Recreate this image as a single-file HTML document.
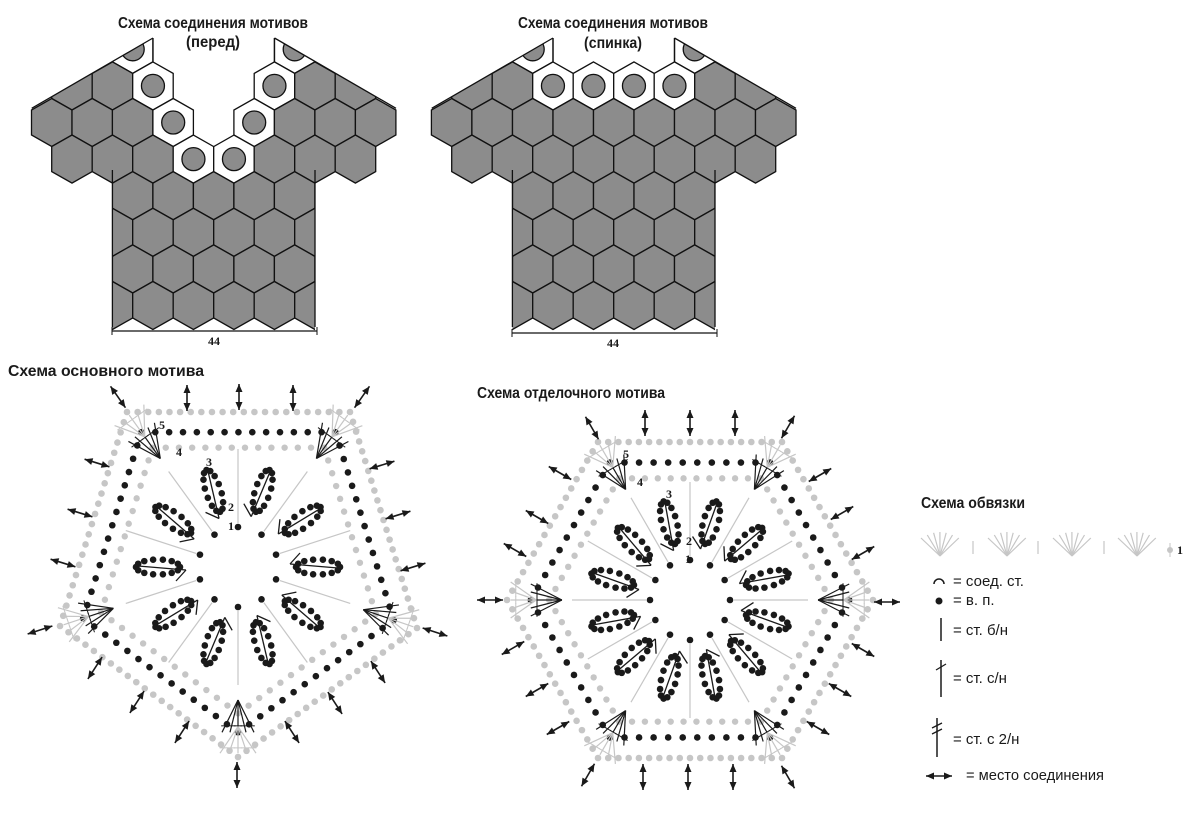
<!DOCTYPE html>
<html><head><meta charset="utf-8">
<style>
html,body{margin:0;padding:0;background:#fff;}
svg{display:block;}
.t{font-family:"Liberation Sans","Noto Sans CJK SC",sans-serif;font-weight:bold;font-size:16px;fill:#1a1a1a;}
.l{font-family:"Liberation Sans","Noto Sans CJK SC",sans-serif;font-size:15px;fill:#1a1a1a;}
.n{font-family:"Liberation Serif",serif;font-weight:bold;font-size:12px;fill:#1a1a1a;}
</style></head>
<body>
<svg id="s" width="1200" height="821" viewBox="0 0 1200 821" xmlns="http://www.w3.org/2000/svg">
<defs>
<clipPath id="fa"><polygon points="0,126.3 153,38 274.5,38 430,127.8 430,200 0,200"/></clipPath>
<clipPath id="fb"><rect x="112.4" y="150" width="202.6" height="190"/></clipPath>
<clipPath id="ba"><polygon points="400,126.3 553,38 674.5,38 830,127.8 830,200 400,200"/></clipPath>
<clipPath id="bb"><rect x="512.4" y="150" width="202.6" height="190"/></clipPath>
</defs>
<g id="g"></g>
<text class="t" x="213" y="28" text-anchor="middle" textLength="190" lengthAdjust="spacingAndGlyphs">Схема соединения мотивов</text>
<text class="t" x="213" y="47" text-anchor="middle" textLength="54" lengthAdjust="spacingAndGlyphs">(перед)</text>
<text class="t" x="613" y="28" text-anchor="middle" textLength="190" lengthAdjust="spacingAndGlyphs">Схема соединения мотивов</text>
<text class="t" x="613" y="48" text-anchor="middle" textLength="58" lengthAdjust="spacingAndGlyphs">(спинка)</text>
<text class="n" x="214" y="345" text-anchor="middle">44</text>
<text class="n" x="613" y="347" text-anchor="middle">44</text>
<text class="t" x="8" y="376" textLength="196" lengthAdjust="spacingAndGlyphs">Схема основного мотива</text>
<text class="t" x="477" y="398" textLength="188" lengthAdjust="spacingAndGlyphs">Схема отделочного мотива</text>
<text class="t" x="921" y="508" textLength="104" lengthAdjust="spacingAndGlyphs">Схема обвязки</text>
<text class="n" x="159" y="429">5</text><text class="n" x="176" y="456">4</text>
<text class="n" x="206" y="466">3</text><text class="n" x="228" y="511">2</text><text class="n" x="228" y="530">1</text>
<text class="n" x="623" y="458">5</text><text class="n" x="637" y="486">4</text>
<text class="n" x="666" y="498">3</text><text class="n" x="686" y="545">2</text><text class="n" x="685" y="563">1</text>
<text class="n" x="1177" y="554">1</text>
<text class="l" x="953" y="586">= соед. ст.</text>
<text class="l" x="953" y="605">= в. п.</text>
<text class="l" x="953" y="635">= ст. б/н</text>
<text class="l" x="953" y="683">= ст. с/н</text>
<text class="l" x="953" y="744">= ст. с 2/н</text>
<text class="l" x="966" y="780" textLength="138" lengthAdjust="spacingAndGlyphs">= место соединения</text>
</svg>
<script>
var NS="http://www.w3.org/2000/svg",G=document.getElementById("g");
function el(t,a,p){var e=document.createElementNS(NS,t);for(var k in a)e.setAttribute(k,a[k]);(p||G).appendChild(e);return e;}
var W=40.5,A=25,C=11.5,X0=51.7,Y0=122.5,RS=36.6;
function hp(cx,cy){var h=W/2;return [[cx,cy-A/2-C],[cx+h,cy-A/2],[cx+h,cy+A/2],[cx,cy+A/2+C],[cx-h,cy+A/2],[cx-h,cy-A/2]].map(function(p){return p[0].toFixed(1)+","+p[1].toFixed(1)}).join(" ");}
function cen(r,i,dx){return [X0+dx+W*(i+((r&1)?0.5:0)),Y0+r*RS];}
function shirt(dx,clipA,clipB,white,omit){
 var ga=el("g",{"clip-path":"url(#"+clipA+")"}),gb=el("g",{"clip-path":"url(#"+clipB+")"});
 var rows={"-2":[0,8],"-1":[0,7],"0":[0,8],"1":[0,7]};
 for(var r=-2;r<=1;r++){for(var i=rows[r][0];i<=rows[r][1];i++){
   var key=r+":"+i;if(omit.indexOf(key)>=0)continue;
   var c=cen(r,i,dx),w=white.indexOf(key)>=0;
   el("polygon",{points:hp(c[0],c[1]),fill:w?"#fff":"#8c8c8c",stroke:"#111","stroke-width":1.3},ga);
   if(w)el("circle",{cx:c[0],cy:c[1],r:11.5,fill:"#8c8c8c",stroke:"#111","stroke-width":1.3},ga);
 }}
 for(var r=2;r<=5;r++){var a=(r&1)?1:2,b=6;for(var i=a;i<=b;i++){var c=cen(r,i,dx);
   el("polygon",{points:hp(c[0],c[1]),fill:"#8c8c8c",stroke:"#111","stroke-width":1.3},gb);}}
 el("line",{x1:112.4+dx,y1:170,x2:112.4+dx,y2:327,stroke:"#111","stroke-width":1.3});
 el("line",{x1:315+dx,y1:170,x2:315+dx,y2:327,stroke:"#111","stroke-width":1.3});
 el("line",{x1:31.7+dx,y1:108.3,x2:153+dx,y2:38,stroke:"#111","stroke-width":1.3});
 el("line",{x1:274.5+dx,y1:38,x2:396+dx,y2:108.3,stroke:"#111","stroke-width":1.3});
 el("line",{x1:153+dx,y1:38,x2:153+dx,y2:62,stroke:"#111","stroke-width":1.3});
 el("line",{x1:274.5+dx,y1:38,x2:274.5+dx,y2:62,stroke:"#111","stroke-width":1.3});
}
shirt(0,"fa","fb",["-2:2","-2:6","-1:2","-1:5","0:3","0:5","1:3","1:4"],["-2:3","-2:4","-2:5","-1:3","-1:4","0:4"]);
shirt(400,"ba","bb",["-2:2","-2:6","-1:2","-1:3","-1:4","-1:5"],["-2:3","-2:4","-2:5"]);
function dim(x1,x2,y){el("line",{x1:x1,y1:y,x2:x2,y2:y,stroke:"#111","stroke-width":1.2});
 el("line",{x1:x1,y1:y-4,x2:x1,y2:y+4,stroke:"#111"});el("line",{x1:x2,y1:y-4,x2:x2,y2:y+4,stroke:"#111"});}
dim(112,317,331);dim(512,717,333);
var GR="#c6c6c6",BK="#1a1a1a";
function sc(pts,c,s){return pts.map(function(p){return [c[0]+(p[0]-c[0])*s,c[1]+(p[1]-c[1])*s];});}
function ring(pts,sp,r,f){for(var k=0;k<pts.length;k++){var p=pts[k],q=pts[(k+1)%pts.length],L=Math.hypot(q[0]-p[0],q[1]-p[1]),n=Math.max(1,Math.round(L/sp));
 for(var j=0;j<n;j++){var t=j/n;el("circle",{cx:p[0]+(q[0]-p[0])*t,cy:p[1]+(q[1]-p[1])*t,r:r,fill:f});}}}
function arrow(cx,cy,a){var d=a*Math.PI/180,ux=Math.cos(d),uy=Math.sin(d),L=13,h=8,w=3.5;
 el("line",{x1:cx-ux*L,y1:cy-uy*L,x2:cx+ux*L,y2:cy+uy*L,stroke:BK,"stroke-width":1.6});
 [1,-1].forEach(function(s){var tx=cx+s*ux*L,ty=cy+s*uy*L,bx=tx-s*ux*h,by=ty-s*uy*h;
  el("polygon",{points:tx+","+ty+" "+(bx-uy*w)+","+(by+ux*w)+" "+(bx+uy*w)+","+(by-ux*w),fill:BK});});}
function fan(ap,to,spread,col,n){var dx=to[0]-ap[0],dy=to[1]-ap[1],L=Math.hypot(dx,dy),px=-dy/L,py=dx/L;
 for(var k=0;k<n;k++){var t=(k/(n-1)-0.5)*2*spread,ex=to[0]+px*t,ey=to[1]+py*t;
  el("line",{x1:ap[0],y1:ap[1],x2:ex,y2:ey,stroke:col,"stroke-width":1.2});
  var mx=ap[0]+(ex-ap[0])*0.8,my=ap[1]+(ey-ap[1])*0.8;
  el("line",{x1:mx-px*4,y1:my-py*4,x2:mx+px*4,y2:my+py*4,stroke:col,"stroke-width":1});}}
function leaf(c,th){var ux=Math.cos(th),uy=Math.sin(th),vx=-uy,vy=ux;
 function P(u,v){return [c[0]+ux*u+vx*v,c[1]+uy*u+vy*v];}
 for(var k=0;k<14;k++){var t=k/14*2*Math.PI;var p=P(80+22*Math.cos(t),7.5*Math.sin(t));
  el("circle",{cx:p[0],cy:p[1],r:3.3,fill:BK});}
 var a=P(52,-3),b=P(100,1);el("line",{x1:a[0],y1:a[1],x2:b[0],y2:b[1],stroke:BK,"stroke-width":1.3});
 var d=P(62,-14);el("line",{x1:a[0],y1:a[1],x2:d[0],y2:d[1],stroke:BK,"stroke-width":1.3});}
function motif(c,pts,nl,off){
 var tb=Math.PI/180;
 for(var k=0;k<nl;k++){var th=(off+k*360/nl-90+180/nl)*tb,ux=Math.cos(th),uy=Math.sin(th);
  el("line",{x1:c[0]+ux*44,y1:c[1]+uy*44,x2:c[0]+ux*118,y2:c[1]+uy*118,stroke:GR,"stroke-width":1.2});
  el("circle",{cx:c[0]+ux*40,cy:c[1]+uy*40,r:3.3,fill:BK});}
 ring(pts,10.5,3.3,GR);ring(sc(pts,c,0.77),13,3.2,GR);ring(sc(pts,c,0.87),14,3.3,BK);
 pts.forEach(function(v){var o=sc([v],c,0.87)[0],i2=sc([v],c,0.7)[0],g=sc([v],c,0.98)[0],gi=sc([v],c,0.84)[0];
  fan(i2,o,16,BK,5);fan(gi,g,18,GR,5);});
 for(var k=0;k<nl;k++)leaf(c,(off+k*360/nl-90)*tb);
}
motif([238,567],[[127,412],[350,412],[417,628],[238,757],[60,626]],10,18);
motif([690,600],[[507,600],[598,442],[782,442],[873,600],[782,758],[598,758]],12,15);
[[118,397,55],[187,398,90],[239,397,90],[293,398,90],[362,397,125],[97,463,17],[382,465,163],[80,513,17],[398,515,163],[63,563,17],[413,567,163],[40,630,162],[435,632,18],[95,668,123],[378,672,57],[137,702,123],[335,703,57],[182,732,123],[292,732,57],[237,775,90],
[592,428,60],[645,423,90],[690,423,90],[735,423,90],[788,427,120],[560,473,30],[820,475,150],[537,517,30],[842,513,150],[515,550,30],[863,553,150],[490,600,0],[887,602,0],[513,648,150],[863,650,30],[537,690,150],[840,690,30],[558,728,150],[818,728,30],[588,775,120],[643,777,90],[688,777,90],[733,777,90],[788,777,60]].forEach(function(a){arrow(a[0],a[1],a[2]);});
[940,1007,1072,1137].forEach(function(x){for(var k=0;k<7;k++){var ex=x-19+k*6.3,ey=538-Math.sin(k/6*Math.PI)*6;
 el("line",{x1:x,y1:556,x2:ex,y2:ey,stroke:GR,"stroke-width":1.2});}});
[973,1038,1104].forEach(function(x){el("line",{x1:x,y1:541,x2:x,y2:554,stroke:GR,"stroke-width":1.2});});
el("circle",{cx:1170,cy:550,r:3,fill:GR});el("line",{x1:1170,y1:543,x2:1170,y2:557,stroke:GR});
el("path",{d:"M934,584 A5,5 0 0 1 944,584",fill:"none",stroke:BK,"stroke-width":1.5});
el("circle",{cx:939,cy:601,r:3.5,fill:BK});
el("line",{x1:941,y1:618,x2:941,y2:641,stroke:BK,"stroke-width":1.5});
el("line",{x1:941,y1:660,x2:941,y2:697,stroke:BK,"stroke-width":1.5});
el("line",{x1:936,y1:670,x2:946,y2:664,stroke:BK,"stroke-width":1.3});
el("line",{x1:937,y1:718,x2:937,y2:757,stroke:BK,"stroke-width":1.5});
el("line",{x1:932,y1:728,x2:942,y2:723,stroke:BK,"stroke-width":1.3});
el("line",{x1:932,y1:734,x2:942,y2:729,stroke:BK,"stroke-width":1.3});
arrow(939,776,0);
</script>
</body></html>
